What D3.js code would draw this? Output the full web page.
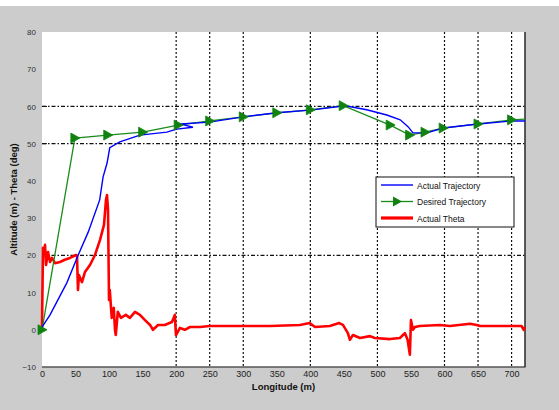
<!DOCTYPE html>
<html>
<head>
<meta charset="utf-8">
<script src="https://cdn.jsdelivr.net/npm/d3@7"></script>
<style>
  html, body { margin: 0; padding: 0; background: #ffffff; }
  svg { display: block; font-family: "Liberation Sans", Arial, sans-serif; }
</style>
</head>
<body>
<svg id="chart"></svg>
<script>
/*
Data
*/

// Axis ticks
const xTicks = [0, 50, 100, 150, 200, 250, 300, 350, 400, 450, 500, 550, 600, 650, 700];
const yTicks = [-10, 0, 10, 20, 30, 40, 50, 60, 70, 80];

// Grid lines that survive in the picture
const xGrid = [200, 250, 300, 400, 500, 600, 650, 700];
const yGrid = [20, 50, 60];

// Actual Trajectory (blue)
const actualX = [0, 12, 37, 54, 69, 86, 91, 97, 101, 116, 146, 186, 201, 225, 206, 250, 300, 350, 400, 452, 484, 514, 534, 546, 553, 574, 598, 650, 700, 720];
const actualY = [0.7, 4, 12.6, 20.1, 26.3, 34.9, 41, 44.8, 48.9, 50.5, 52.3, 53.1, 53.9, 54.4, 55.3, 55.8, 57.2, 58.3, 59, 60.2, 59.1, 57.7, 56.4, 54.5, 52.9, 52.9, 54.2, 55.3, 56.1, 56.1];

// Desired Trajectory (green, waypoints)
const desiredX = [0, 49, 98, 150, 203, 250, 300, 350, 400, 449, 519, 548, 571, 598, 650, 700, 720];
const desiredY = [0, 51.5, 52.3, 53.1, 55, 56.1, 57.2, 58.3, 59.1, 60.2, 55, 52.3, 53.1, 54.2, 55.3, 56.4, 56.6];

// Actual Theta (red)
const thetaX = [0, 1.5, 3, 4.5, 6, 9, 12, 15, 19.4, 26.8, 34, 41.7, 50.7, 52.2, 53.6, 55, 59.6, 64, 71.5, 79, 86.4, 92.4, 95.4, 96.9, 98.4, 99.9, 101, 104, 107, 108.8, 110, 113, 117.7, 125, 131, 138.6, 146, 153.5, 161, 165.4, 173, 183, 193.7, 198, 199.7, 205.7, 213, 220.6, 235.5, 250, 295, 340, 384.5, 399, 407, 429, 443, 448.6, 456, 459, 463.5, 474, 489, 496, 518.6, 533.5, 541, 545, 548.4, 550, 553, 556, 563, 593, 608, 638, 648, 653, 682.6, 705, 715, 718, 720];
const thetaY = [0.7, 22, 20, 22.8, 17.4, 20.9, 18.2, 19.3, 17.9, 18.2, 18.8, 19.3, 20.1, 19.8, 10.7, 14.7, 12.8, 15.5, 17.4, 20.1, 24.1, 28.2, 34.9, 36.2, 32.2, 8, 10.7, 3.2, 5.9, 0, -1.4, 4.8, 3.2, 4, 3.2, 4.8, 4, 2.6, 1.3, 0, 1.3, 1.3, 2.1, 4, -1.4, 0.5, 0, 0.75, 0.75, 1, 1, 1, 1.3, 1.8, 0.75, 1, 1.8, 1.3, -0.9, -2.7, -1.4, -2.2, -1.7, -2.2, -2.5, -2.2, -0.9, -2.7, -6.7, 2.6, 0, 0.75, 1, 1.3, 1, 1.6, 1.3, 1, 1, 1, 1, 0, 0.7];

// Legend entries
const legendLabels = ["Actual Trajectory", "Desired Trajectory", "Actual Theta"];

/*
Setup
*/

const width  = 559;
const height = 410;

const svg = d3.select("#chart")
  .attr("width", width)
  .attr("height", height)
  .attr("viewBox", "0 0 " + width + " " + height);

// Figure background
svg.append("rect")
  .attr("x", 0).attr("y", 6)
  .attr("width", width).attr("height", height - 6)
  .attr("fill", "#cccccc");

const plot = { left: 42, right: 525, top: 32, bottom: 367 };

const x = d3.scaleLinear().domain([0, 720]).range([plot.left, plot.right]);
const y = d3.scaleLinear().domain([-10, 80]).range([plot.bottom, plot.top]);

svg.append("rect")
  .attr("x", plot.left).attr("y", plot.top)
  .attr("width", plot.right - plot.left)
  .attr("height", plot.bottom - plot.top)
  .attr("fill", "#ffffff");

/*
Grid
*/

svg.append("g")
  .classed("xgrid", true)
  .selectAll("line")
  .data(xGrid)
  .enter()
  .append("line")
  .attr("x1", d => x(d)).attr("x2", d => x(d))
  .attr("y1", plot.top).attr("y2", plot.bottom)
  .attr("stroke", "#111")
  .attr("stroke-width", 1.2)
  .attr("stroke-dasharray", "2,2");

svg.append("g")
  .classed("ygrid", true)
  .selectAll("line")
  .data(yGrid)
  .enter()
  .append("line")
  .attr("x1", plot.left).attr("x2", plot.right)
  .attr("y1", d => y(d)).attr("y2", d => y(d))
  .attr("stroke", "#111")
  .attr("stroke-width", 1.2)
  .attr("stroke-dasharray", "4,2,1.5,2");

/*
Axes
*/

const xAxis = d3.axisBottom(x)
  .tickValues(xTicks)
  .tickSize(0)
  .tickPadding(4);

const gx = svg.append("g")
  .attr("transform", "translate(0," + plot.bottom + ")")
  .call(xAxis);
gx.select(".domain").remove();
gx.selectAll("text")
  .attr("font-size", 9)
  .attr("fill", "#222")
  .attr("font-family", "Liberation Sans, Arial, sans-serif");

const yAxis = d3.axisLeft(y)
  .tickValues(yTicks)
  .tickSize(0)
  .tickPadding(6);

const gy = svg.append("g")
  .attr("transform", "translate(" + plot.left + ",0)")
  .call(yAxis);
gy.select(".domain").remove();
gy.selectAll("text")
  .attr("font-size", 8)
  .attr("fill", "#333")
  .attr("font-family", "Liberation Sans, Arial, sans-serif");

// Inner tick marks where the grid shows
svg.append("g")
  .selectAll("line")
  .data(yGrid)
  .enter()
  .append("line")
  .attr("x1", plot.left).attr("x2", plot.left + 5)
  .attr("y1", d => y(d)).attr("y2", d => y(d))
  .attr("stroke", "#111");

// Bottom and right frame
svg.append("line")
  .attr("x1", plot.left).attr("x2", plot.right + 0.5)
  .attr("y1", plot.bottom).attr("y2", plot.bottom)
  .attr("stroke", "#555").attr("stroke-width", 1.6);
svg.append("line")
  .attr("x1", plot.right).attr("x2", plot.right)
  .attr("y1", plot.top).attr("y2", plot.bottom)
  .attr("stroke", "#333").attr("stroke-width", 1.6);

// Axis titles
svg.append("text")
  .attr("x", (plot.left + plot.right) / 2)
  .attr("y", 390)
  .attr("text-anchor", "middle")
  .attr("font-size", 9.5)
  .attr("font-weight", "bold")
  .attr("fill", "#111")
  .text("Longitude (m)");

svg.append("text")
  .attr("transform", "translate(17," + (plot.top + plot.bottom) / 2 + ") rotate(-90)")
  .attr("text-anchor", "middle")
  .attr("font-size", 9.5)
  .attr("font-weight", "bold")
  .attr("fill", "#111")
  .text("Altitude (m) - Theta (deg)");

/*
Series
*/

const line = d3.line()
  .x(d => x(d[0]))
  .y(d => y(d[1]));

const thetaPts   = thetaX.map((v, i) => [v, thetaY[i]]);
const actualPts  = actualX.map((v, i) => [v, actualY[i]]);
const desiredPts = desiredX.map((v, i) => [v, desiredY[i]]);

svg.append("path")
  .datum(thetaPts)
  .attr("d", line)
  .attr("fill", "none")
  .attr("stroke", "#ff0000")
  .attr("stroke-width", 2.6)
  .attr("stroke-linejoin", "round");

svg.append("path")
  .datum(desiredPts)
  .attr("d", line)
  .attr("fill", "none")
  .attr("stroke", "#1a8c1a")
  .attr("stroke-width", 1.3);

svg.append("path")
  .datum(actualPts)
  .attr("d", line)
  .attr("fill", "none")
  .attr("stroke", "#0000ff")
  .attr("stroke-width", 1.4);

const tri = "M-4,-5L5,0L-4,5Z";

svg.append("g")
  .classed("markers", true)
  .selectAll("path")
  .data(desiredPts.slice(0, desiredPts.length - 1))
  .enter()
  .append("path")
  .attr("transform", d => "translate(" + x(d[0]) + "," + y(d[1]) + ")")
  .attr("d", tri)
  .attr("fill", "#0f820f")
  .attr("stroke", "#0f820f")
  .attr("stroke-width", 0.8);

/*
Legend
*/

const legend = svg.append("g")
  .attr("transform", "translate(376,177)");

legend.append("rect")
  .attr("width", 138).attr("height", 50)
  .attr("fill", "#ffffff")
  .attr("stroke", "#111")
  .attr("stroke-width", 1);

const legendColors = ["#0000ff", "#1a8c1a", "#ff0000"];
const legendWidths = [1.4, 1.3, 3.2];

legendLabels.forEach((label, i) => {
  const ly = 8 + i * 16.5;
  legend.append("line")
    .attr("x1", 5).attr("x2", 37)
    .attr("y1", ly).attr("y2", ly)
    .attr("stroke", legendColors[i])
    .attr("stroke-width", legendWidths[i]);
  if (i === 1) {
    legend.append("path")
      .attr("transform", "translate(21," + ly + ")")
      .attr("d", tri)
      .attr("fill", "#0f820f");
  }
  legend.append("text")
    .attr("x", 41).attr("y", ly + 3.5)
    .attr("font-size", 8.5)
    .attr("fill", "#111")
    .text(label);
});
</script>
</body>
</html>
